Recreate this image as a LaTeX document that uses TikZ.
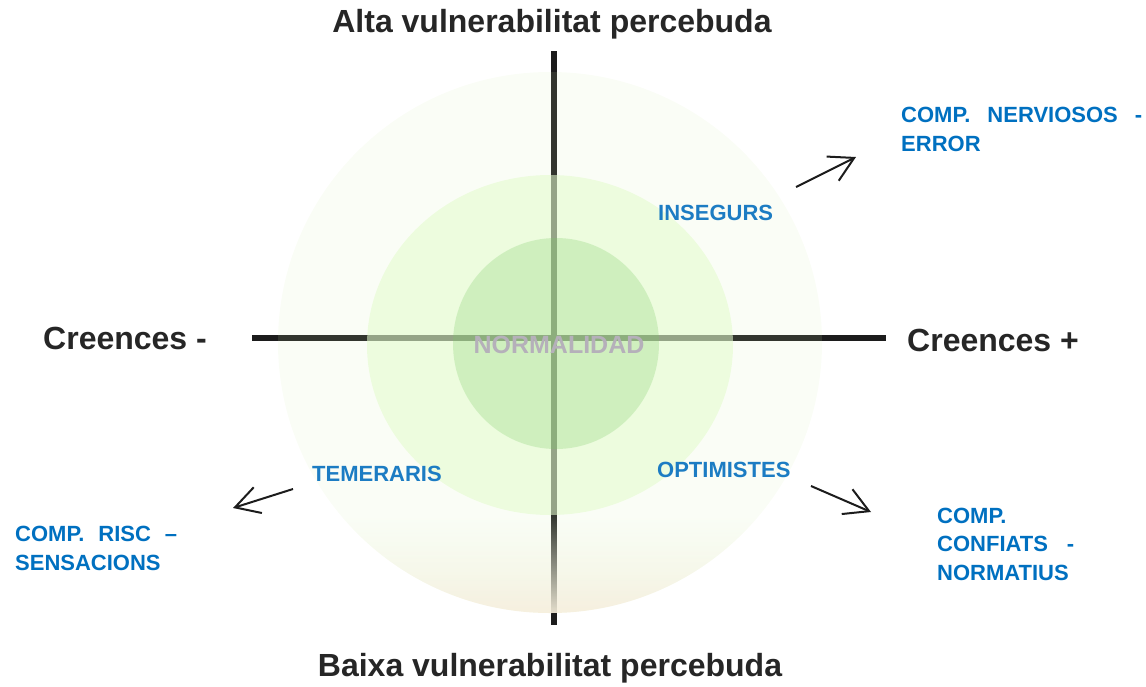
\documentclass[tikz,border=0pt]{standalone}
\usepackage{fontspec}
\setmainfont{Liberation Sans}
\usetikzlibrary{arrows.meta,fadings}

\definecolor{axisgray}{HTML}{1C1C1C}
\definecolor{titlegray}{HTML}{262626}
\definecolor{compblue}{HTML}{0070C0}
\definecolor{quadblue}{HTML}{1C7CC3}
\definecolor{normgray}{HTML}{B5B0BA}
\definecolor{outergreen}{RGB}{215,238,180}
\definecolor{middlegreen}{RGB}{227,252,205}
\definecolor{innergreen}{RGB}{121,204,96}
\definecolor{fadegreen}{RGB}{238,248,226}
\definecolor{fadetan}{RGB}{246,238,220}
\tikzfading[name=bottomfade, top color=transparent!100, bottom color=transparent!8]

\begin{document}
\begin{tikzpicture}[x=1pt,y=-1pt,
  axis/.style={line width=6pt,axisgray},
  title/.style={inner sep=0pt,anchor=base,font=\fontsize{32}{38}\selectfont\bfseries,text=titlegray},
  side/.style={inner sep=0pt,anchor=base west,font=\fontsize{32}{38}\selectfont\bfseries,text=titlegray},
  quad/.style={inner sep=0pt,anchor=base west,font=\fontsize{22}{28}\selectfont\bfseries,text=quadblue},
  comp/.style={inner sep=0pt,anchor=base west,align=left,font=\fontsize{22}{28.3}\selectfont\bfseries,text=compblue},
  pointer/.style={-{Straight Barb[length=24pt,width=27pt]},line width=2pt,axisgray}]
\useasboundingbox (0,0) rectangle (1146,686);
% axes
\coordinate (top) at (554,51);
\coordinate (bottom) at (554,625);
\coordinate (left) at (252,338);
\coordinate (right) at (886,338);
\draw[axis] (top) -- (bottom);
\draw[axis] (left) -- (right);
% rings
\fill[outergreen,fill opacity=0.12] (550,342.5) ellipse [x radius=272,y radius=270.5];
\begin{scope}
\clip (550,342.5) ellipse [x radius=272,y radius=270.5];
\shade[top color=fadegreen,bottom color=fadetan,path fading=bottomfade] (278,515) rectangle (822,614);
\end{scope}
\fill[middlegreen,fill opacity=0.56] (550,345) ellipse [x radius=183,y radius=170];
\fill[innergreen,fill opacity=0.25] (556,343.5) ellipse [x radius=103,y radius=105.5];
% labels
\draw node[title] (alta) at (552,32) {Alta vulnerabilitat percebuda};
\draw node[title] (baixa) at (550,676) {Baixa vulnerabilitat percebuda};
\draw node[side] (cminus) at (43,349) {Creences -};
\draw node[side] (cplus) at (907,351) {Creences +};
\draw node[inner sep=0pt,anchor=base,font=\fontsize{25}{30}\selectfont\bfseries,text=normgray] (normalidad) at (559,353) {NORMALIDAD};
\draw node[quad] (insegurs) at (658,220) {INSEGURS};
\draw node[quad] (temeraris) at (312,481) {TEMERARIS};
\draw node[quad] (optimistes) at (657,477) {OPTIMISTES};
% base of a multi-line node is its last line
\draw node[comp] (nervi) at (901,151) {\makebox[241pt][s]{COMP. NERVIOSOS -}\\ERROR};
\draw node[comp] (risc) at (15,570) {\makebox[162pt][s]{COMP. RISC –}\\SENSACIONS};
\draw node[comp] (confi) at (937,580) {COMP.\\\makebox[137pt][s]{CONFIATS -}\\NORMATIUS};
% pointers
\coordinate (nervi-tail) at (796,187);
\coordinate (nervi-head) at (856,157);
\coordinate (risc-tail) at (293,489);
\coordinate (risc-head) at (233,508);
\coordinate (confi-tail) at (811,486);
\coordinate (confi-head) at (871,512);
\draw[pointer] (nervi-tail) -- (nervi-head);
\draw[pointer] (risc-tail) -- (risc-head);
\draw[pointer] (confi-tail) -- (confi-head);
\end{tikzpicture}
\end{document}
